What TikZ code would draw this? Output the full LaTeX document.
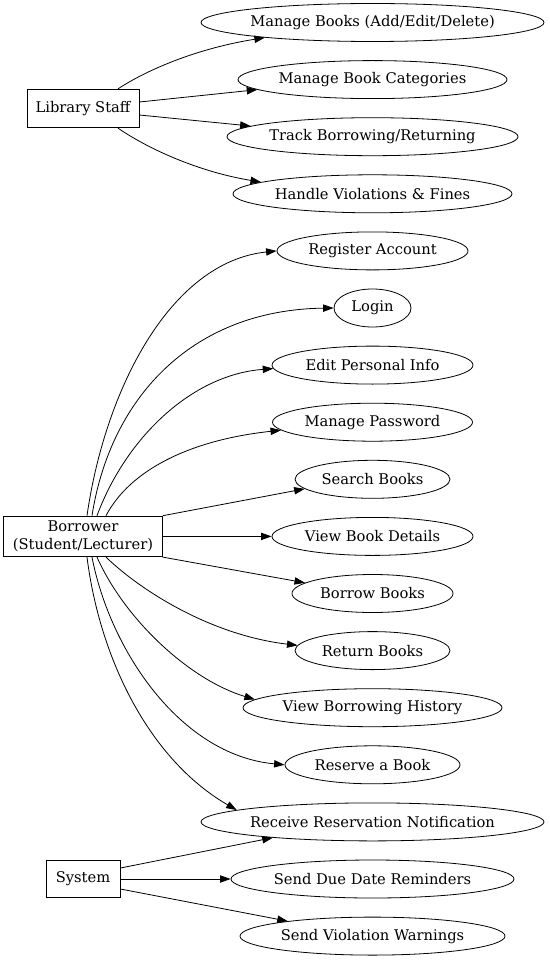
\documentclass[tikz,border=0pt]{standalone}
\usepackage{fontspec}
\setmainfont{DejaVu Serif}
\usetikzlibrary{shapes.geometric,arrows.meta}
\begin{document}
\begin{tikzpicture}[x=1pt,y=-1pt,
  every node/.style={font=\fontsize{14.7}{17.5}\selectfont},
  uc/.style={draw, ellipse, line width=0.8pt, inner sep=0pt, minimum height=38pt, minimum width=#1},
  actor/.style={draw, rectangle, line width=0.8pt, inner sep=0pt, align=center},
  conn/.style={line width=0.8pt, -{Triangle[length=10.5pt,width=7.3pt]}}]
\useasboundingbox (0,0) rectangle (549,960);

% actors
\node[actor, minimum width=112pt, minimum height=38.5pt] (ls) at (83,108.5) {Library Staff};
\node[actor, minimum width=158.7pt, minimum height=40.6pt] (bo) at (83,536.4) {Borrower\\(Student/Lecturer)};
\node[actor, minimum width=74pt, minimum height=37.7pt] (sy) at (83,879) {System};

% use cases
\node[uc=343pt] (mb) at (372.5,22.5) {\makebox[0pt]{Manage Books (Add/Edit/Delete)}};
\node[uc=269pt] (cat) at (372.5,79.6) {\makebox[0pt]{Manage Book Categories}};
\node[uc=291pt] (trk) at (372.5,136.7) {\makebox[0pt]{Track Borrowing/Returning}};
\node[uc=279pt] (hvf) at (372.5,193.8) {\makebox[0pt]{Handle Violations \& Fines}};
\node[uc=191pt] (reg) at (372.5,250.9) {\makebox[0pt]{Register Account}};
\node[uc=77pt] (lgn) at (372.5,308) {\makebox[0pt]{Login}};
\node[uc=201pt] (edt) at (372.5,365.1) {\makebox[0pt]{Edit Personal Info}};
\node[uc=200pt] (pwd) at (372.5,422.2) {\makebox[0pt]{Manage Password}};
\node[uc=155pt] (srch) at (372.5,479.3) {\makebox[0pt]{Search Books}};
\node[uc=201pt] (vbd) at (372.5,536.4) {\makebox[0pt]{View Book Details}};
\node[uc=161pt] (brw) at (372.5,593.5) {\makebox[0pt]{Borrow Books}};
\node[uc=155pt] (ret) at (372.5,650.6) {\makebox[0pt]{Return Books}};
\node[uc=259pt] (hist) at (372.5,707.7) {\makebox[0pt]{View Borrowing History}};
\node[uc=175pt] (res) at (372.5,764.8) {\makebox[0pt]{Reserve a Book}};
\node[uc=343pt] (rrn) at (372.5,821.9) {\makebox[0pt]{Receive Reservation Notification}};
\node[uc=283pt] (due) at (372.5,879) {\makebox[0pt]{Send Due Date Reminders}};
\node[uc=265pt] (vw) at (372.5,936.1) {\makebox[0pt]{Send Violation Warnings}};

% library staff
\draw[conn] ([xshift=35pt]ls.north) .. controls (150,68) and (200,48) .. (mb.188);
\draw[conn] ([yshift=6.5pt]ls.east) -- (cat.185);
\draw[conn] ([yshift=-6.5pt]ls.east) -- (trk.175);
\draw[conn] ([xshift=35pt]ls.south) .. controls (150,150) and (200,172) .. (hvf.174);

% borrower
\draw[conn] ([xshift=4pt]bo.north) .. controls (105,390) and (170,262) .. (reg.west);
\draw[conn] ([xshift=9pt]bo.north) .. controls (110,400) and (190,310) .. (lgn.west);
\draw[conn] ([xshift=14pt]bo.north) .. controls (125,440) and (190,375) .. (edt.182);
\draw[conn] ([xshift=23pt]bo.north) .. controls (130,470) and (190,440) .. (pwd.185);
\draw[conn] (bo.north east) -- (srch.188);
\draw[conn] (bo.east) -- (vbd.west);
\draw[conn] (bo.south east) -- (brw.171);
\draw[conn] ([xshift=23pt]bo.south) .. controls (140,590) and (210,635) .. (ret.176);
\draw[conn] ([xshift=14pt]bo.south) .. controls (125,620) and (190,680) .. (hist.176);
\draw[conn] ([xshift=9pt]bo.south) .. controls (110,650) and (180,755) .. (res.west);
\draw[conn] ([xshift=4pt]bo.south) .. controls (100,660) and (150,760) .. (rrn.175.6);

% system
\draw[conn] ([yshift=11pt]sy.east) -- (rrn.189);
\draw[conn] (sy.east) -- (due.west);
\draw[conn] ([yshift=-10pt]sy.east) -- (vw.170.5);
\end{tikzpicture}
\end{document}
